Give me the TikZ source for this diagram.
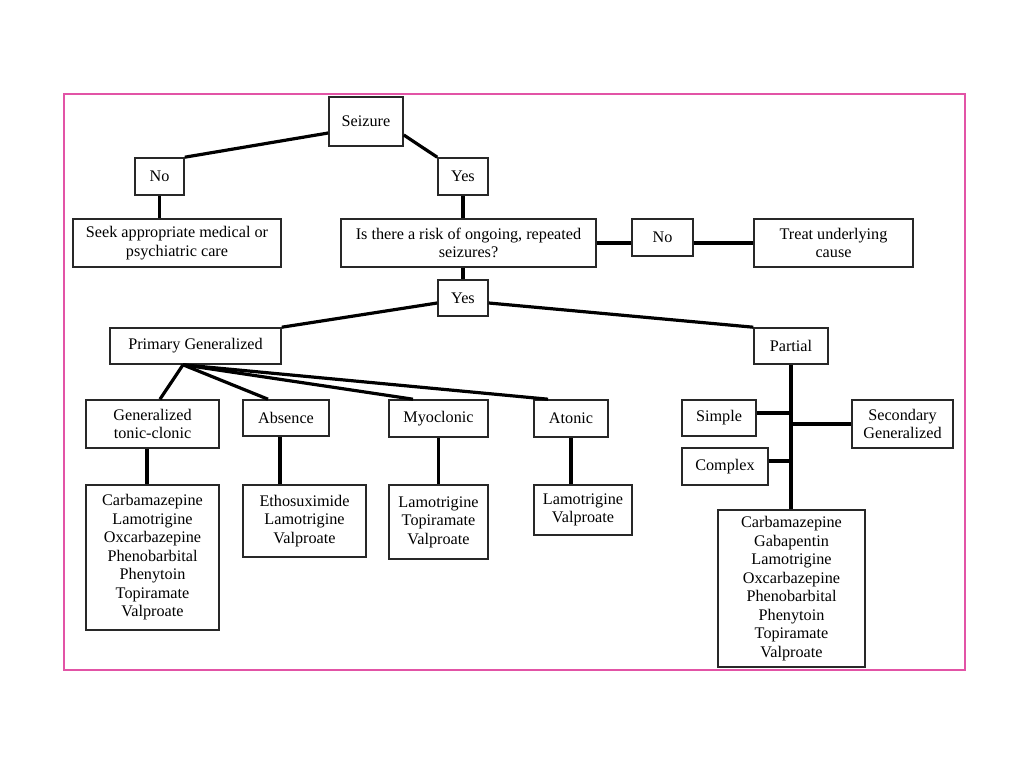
\documentclass[tikz,border=0pt]{standalone}
\usepackage{fontspec}
\setmainfont{Liberation Serif}
\usetikzlibrary{calc}
\definecolor{framepink}{RGB}{226,84,166}
\definecolor{boxgray}{RGB}{40,40,40}
\begin{document}
\begin{tikzpicture}[x=1pt,y=-1pt,
  box/.style={draw=boxgray,line width=1.6pt,inner sep=0pt,align=center,
    font=\fontsize{16.2}{18.5}\selectfont},
  conn/.style={line width=3.2pt,black},
  pinkframe/.style={draw=framepink,line width=1.5pt}]
\useasboundingbox[fill=white] (0,0) rectangle (1024,768);
\draw[pinkframe] (64,94) rectangle (965,670);

% top level
\node[box,minimum width=74pt,minimum height=49pt] (seizure) at (366,121.5) {Seizure};
\node[box,minimum width=49pt,minimum height=37pt] (no) at (159.5,176.5) {No};
\node[box,minimum width=50pt,minimum height=37pt] (yes) at (463,176.5) {Yes};
\node[box,minimum width=208pt,minimum height=48pt] (seek) at (177,243) {Seek appropriate medical or\\psychiatric care};
\node[box,minimum width=255pt,minimum height=48pt] (risk) at (468.5,243) {Is there a risk of ongoing, repeated\\seizures?};
\node[box,minimum width=61pt,minimum height=37pt] (no2) at (662.5,237.5) {No};
\node[box,minimum width=159pt,minimum height=48pt] (treat) at (833.5,243) {Treat underlying\\cause};
\node[box,minimum width=50pt,minimum height=36pt] (yes2) at (463,298) {Yes};
\node[box,minimum width=171pt,minimum height=36pt] (prim) at (195.5,346) {Primary Generalized};
\node[box,minimum width=74pt,minimum height=36pt] (partial) at (791,346) {Partial};

% generalized types
\node[box,minimum width=133pt,minimum height=48pt] (gtc) at (152.5,424) {Generalized\\tonic-clonic};
\node[box,minimum width=86pt,minimum height=36pt] (absence) at (286,418) {Absence};
\node[box,minimum width=99pt,minimum height=37pt] (myo) at (438.5,418.5) {Myoclonic};
\node[box,minimum width=74pt,minimum height=37pt] (atonic) at (571,418.5) {Atonic};

\node[box,minimum width=133pt,minimum height=145pt] (gtclist) at (152.5,557.5)
  {Carbamazepine\\Lamotrigine\\Oxcarbazepine\\Phenobarbital\\Phenytoin\\Topiramate\\Valproate};
\node[box,minimum width=123pt,minimum height=72pt] (abslist) at (304.5,521)
  {Ethosuximide\\Lamotrigine\\Valproate};
\node[box,minimum width=99pt,minimum height=74pt] (myolist) at (438.5,522)
  {Lamotrigine\\Topiramate\\Valproate};
\node[box,minimum width=98pt,minimum height=50pt] (atolist) at (583,510)
  {Lamotrigine\\Valproate};

% partial types
\node[box,minimum width=74pt,minimum height=36pt] (simple) at (719,418) {Simple};
\node[box,minimum width=101pt,minimum height=48pt] (secgen) at (902.5,424) {Secondary\\Generalized};
\node[box,minimum width=86pt,minimum height=37pt] (complex) at (725,466.5) {Complex};
\node[box,minimum width=147pt,minimum height=157pt] (partlist) at (791.5,588.5)
  {Carbamazepine\\Gabapentin\\Lamotrigine\\Oxcarbazepine\\Phenobarbital\\Phenytoin\\Topiramate\\Valproate};

% connectors
\draw[conn] ($(seizure.west)+(0,11.5)$) -- (no.north east);
\draw[conn] ($(seizure.east)+(0,13.5)$) -- (yes.north west);
\draw[conn] (no.south) -- (no.south |- seek.north);
\draw[conn] (yes.south) -- (yes.south |- risk.north);
\draw[conn] (yes2.north |- risk.south) -- (yes2.north);
\draw[conn] (risk.east) -- (risk.east -| no2.west);
\draw[conn] (risk.east -| no2.east) -- (treat.west);
\draw[conn] ($(yes2.west)+(0,5)$) -- (prim.north east);
\draw[conn] ($(yes2.east)+(0,5)$) -- (partial.north west);

\coordinate (fan) at ($(prim.south)+(-12.5,0)$);
\draw[conn] (fan) -- ($(gtc.north)+(7.5,0)$);
\draw[conn] (fan) -- ($(absence.north)+(-18,0)$);
\draw[conn] (fan) -- ($(myo.north)+(-25.5,0)$);
\draw[conn] (fan) -- ($(atonic.north)+(-23,0)$);

\draw[conn] ($(gtc.south)+(-5.5,0)$) coordinate (g1) -- (g1 |- gtclist.north);
\draw[conn] ($(absence.south)+(-6,0)$) coordinate (a1) -- (a1 |- abslist.north);
\draw[conn] (myo.south) -- (myo.south |- myolist.north);
\draw[conn] (atonic.south) -- (atonic.south |- atolist.north);

\draw[conn] (partial.south) -- (partial.south |- partlist.north);
\draw[conn] ($(simple.east)+(0,-5)$) coordinate (s1) -- (s1 -| partial.south);
\draw[conn] (secgen.west) -- (secgen.west -| partial.south);
\draw[conn] ($(complex.east)+(0,-5.5)$) coordinate (c1) -- (c1 -| partial.south);
\end{tikzpicture}
\end{document}
